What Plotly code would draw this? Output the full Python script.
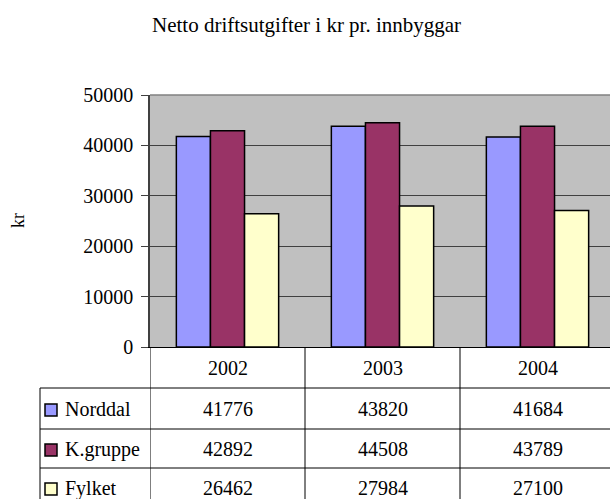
import plotly.graph_objects as go

title = "Netto driftsutgifter i kr pr. innbyggar"
years = ["2002", "2003", "2004"]
series_names = ["Norddal", "K.gruppe", "Fylket"]
norddal = [41776, 43820, 41684]
kgruppe = [42892, 44508, 43789]
fylket = [26462, 27984, 27100]
colors = ["#9999FF", "#993366", "#FFFFCC"]
y_ticks = [0, 10000, 20000, 30000, 40000, 50000]

series_values = [norddal, kgruppe, fylket]

W, H = 610, 499
L, R, T, B = 150, 610, 95, 347  # plot area in pixels
CAT_W = 155  # pixel width of one category (last one is cut by the edge)
x_max = -0.5 + (R - L) / CAT_W


def px(x):
    return (x - L) / (R - L)


def py(y):
    return (B - y) / (B - T)


FONT = "Liberation Serif"
FS = 20

fig = go.Figure()
for name, vals, col in zip(series_names, series_values, colors):
    fig.add_trace(go.Bar(
        x=years, y=vals, name=name,
        marker=dict(color=col, line=dict(color="black", width=1.5)),
        showlegend=False, hoverinfo="skip",
    ))

shapes = []
annotations = []

# grey top border of plot area
shapes.append(dict(type="line", xref="paper", yref="paper",
                   x0=0, x1=1, y0=1, y1=1,
                   line=dict(color="#808080", width=1.5)))

row_lines = [388, 429, 468]
for yl in row_lines:
    shapes.append(dict(type="line", xref="paper", yref="paper",
                       x0=px(40), x1=1, y0=py(yl), y1=py(yl),
                       line=dict(color="black", width=1)))
shapes.append(dict(type="line", xref="paper", yref="paper",
                   x0=px(40), x1=px(40), y0=py(388), y1=py(505),
                   line=dict(color="black", width=1)))
for i in range(len(years)):
    xl = i - 0.5
    shapes.append(dict(type="line", xref="x", yref="paper",
                       x0=xl, x1=xl, y0=py(347), y1=py(505),
                       line=dict(color="black", width=1)))

row_centers = [409, 449, 488]
for i, yr in enumerate(years):
    annotations.append(dict(x=i, xref="x", y=py(368), yref="paper",
                            text=yr, showarrow=False,
                            font=dict(family=FONT, size=FS, color="black"),
                            xanchor="center", yanchor="middle"))
for name, vals, col, yc in zip(series_names, series_values, colors, row_centers):
    shapes.append(dict(type="rect", xref="paper", yref="paper",
                       x0=px(45), x1=px(57), y0=py(yc - 5), y1=py(yc + 7),
                       fillcolor=col, line=dict(color="black", width=1.5)))
    annotations.append(dict(x=px(63), xref="paper", y=py(yc), yref="paper",
                            text=name, showarrow=False,
                            font=dict(family=FONT, size=FS, color="black"),
                            xanchor="left", yanchor="middle"))
    for i, v in enumerate(vals):
        annotations.append(dict(x=i, xref="x", y=py(yc), yref="paper",
                                text=str(v), showarrow=False,
                                font=dict(family=FONT, size=FS, color="black"),
                                xanchor="center", yanchor="middle"))

annotations.append(dict(x=px(18), xref="paper", y=py(221), yref="paper",
                        text="kr", textangle=-90, showarrow=False,
                        font=dict(family=FONT, size=18, color="black"),
                        xanchor="center", yanchor="middle"))
annotations.append(dict(x=px(306), xref="paper", y=py(25), yref="paper",
                        text=title, showarrow=False,
                        font=dict(family=FONT, size=21, color="black"),
                        xanchor="center", yanchor="middle"))

fig.update_layout(
    width=W, height=H,
    margin=dict(l=L, r=W - R, t=T, b=H - B, pad=0),
    paper_bgcolor="white", plot_bgcolor="#C0C0C0",
    barmode="group", bargap=0.34, bargroupgap=0,
    shapes=shapes, annotations=annotations,
    font=dict(family=FONT, size=FS, color="black"),
    xaxis=dict(type="category", range=[-0.5, x_max], showticklabels=False,
               ticks="", showgrid=False, showline=True, linecolor="black",
               linewidth=1),
    yaxis=dict(range=[0, 50000], tickvals=y_ticks, tickformat="d",
               ticks="outside", ticklen=7, tickcolor="#404040", showline=True,
               linecolor="#404040", linewidth=1.5, showgrid=True,
               gridcolor="#404040", gridwidth=1, zeroline=False,
               ticklabelstandoff=4,
               tickfont=dict(family=FONT, size=FS)),
)

fig.write_html("out.html",
               config={"displayModeBar": False},
               post_script="document.body.style.margin='0';"
                           "document.body.style.overflow='hidden';")
